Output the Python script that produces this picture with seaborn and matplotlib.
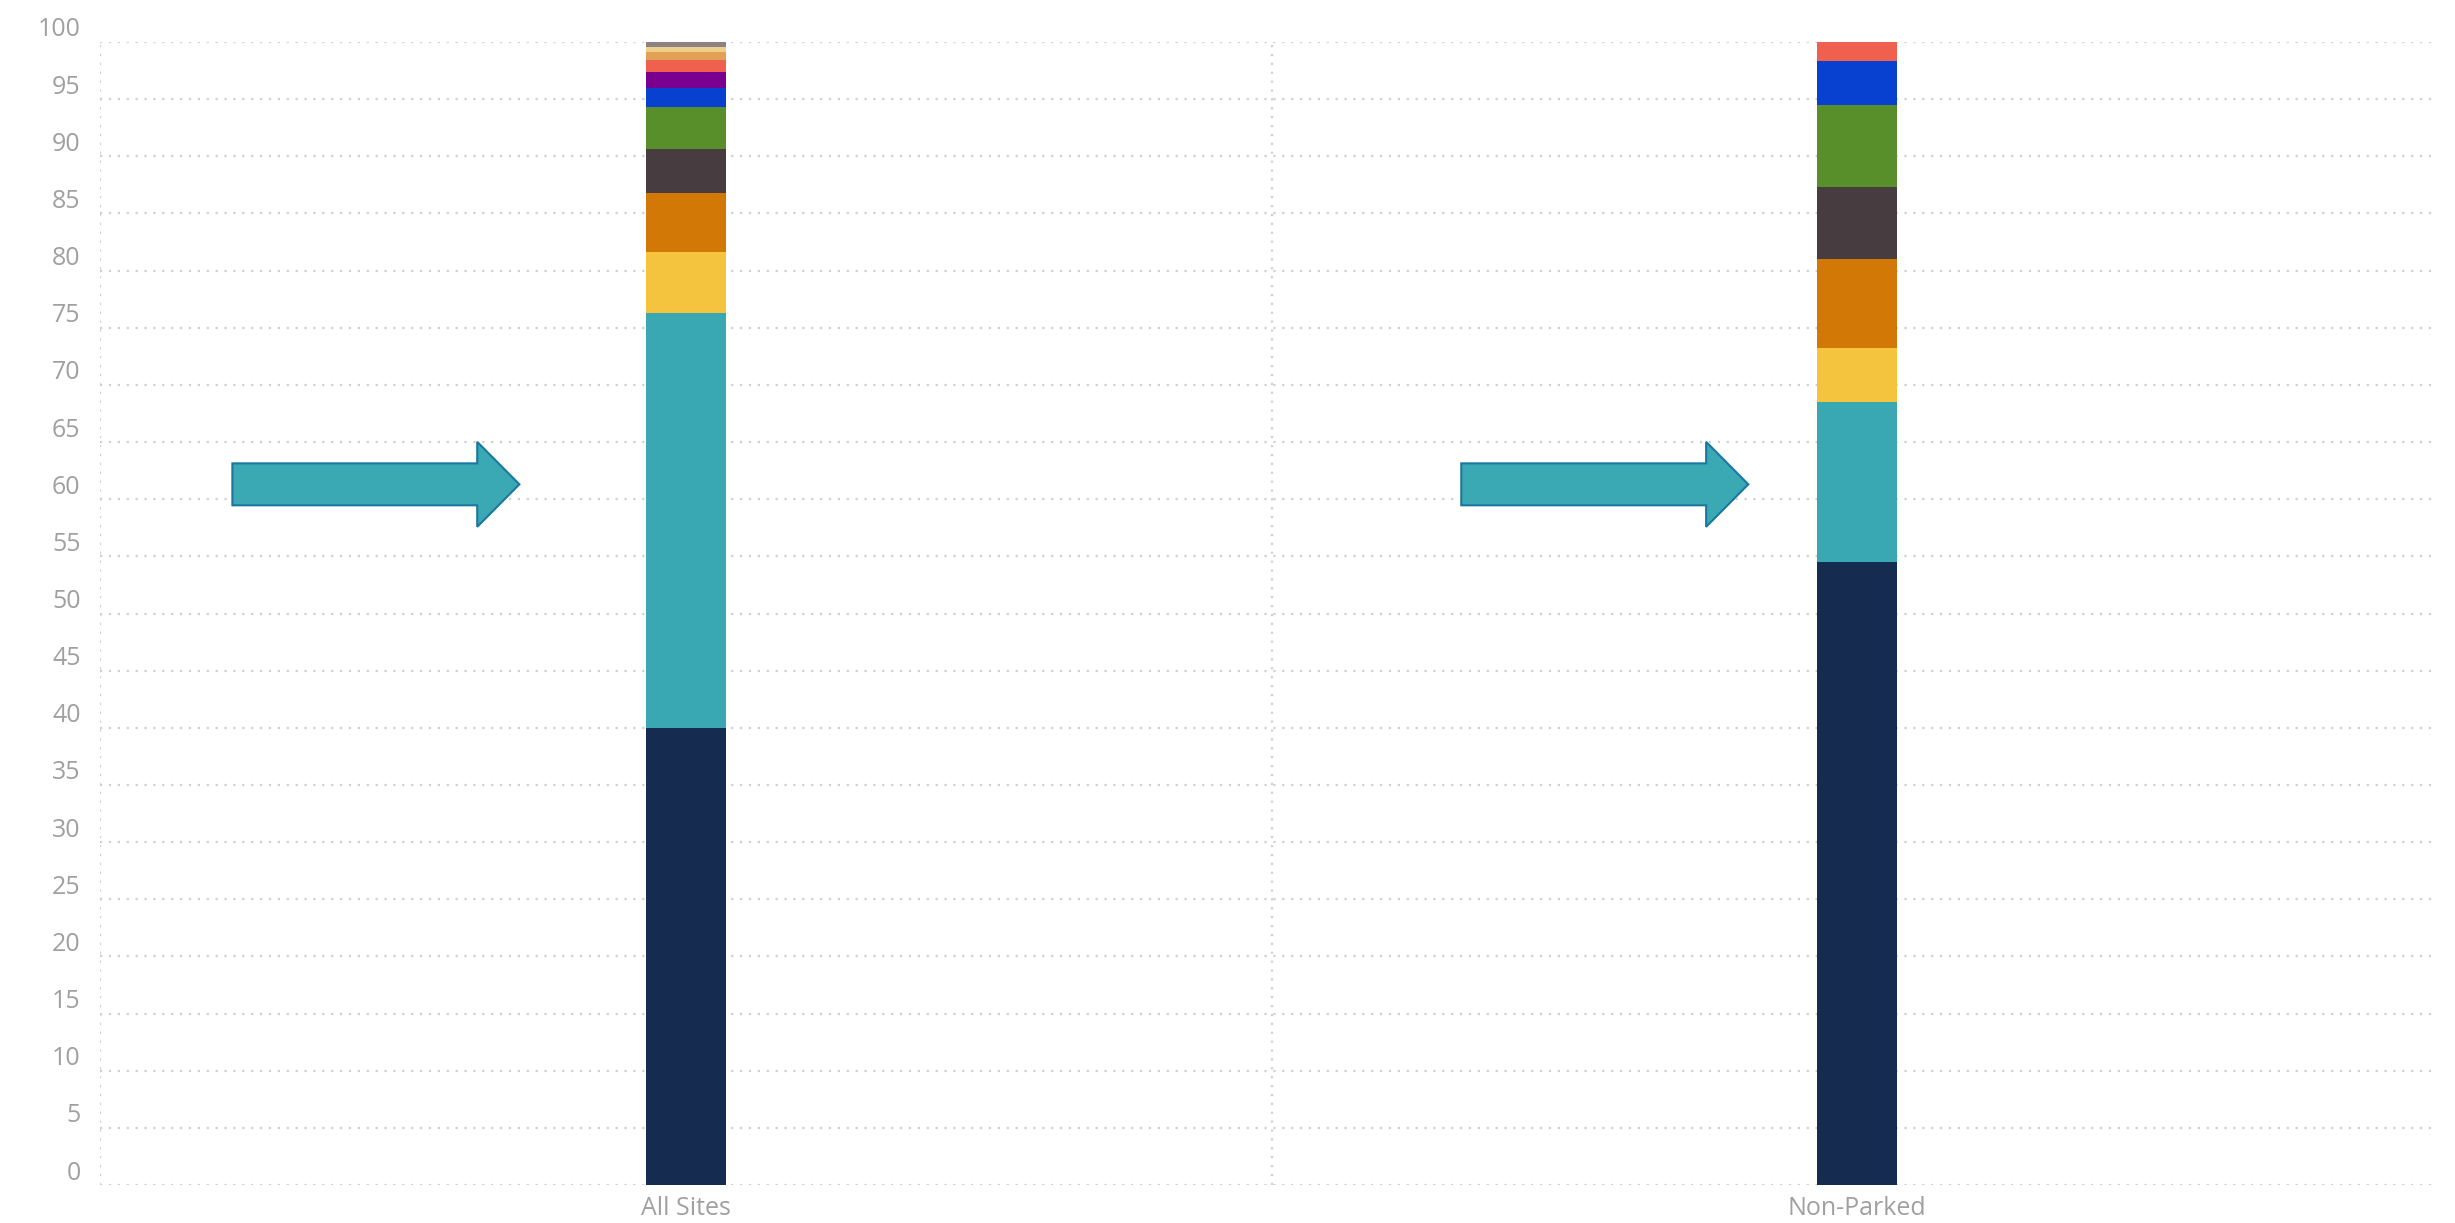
import matplotlib
matplotlib.use("Agg")
import matplotlib.pyplot as plt
import matplotlib.transforms as mtransforms
from matplotlib.patches import FancyArrow
import numpy as np
import seaborn as sns

# data (percent share of each segment, bottom to top)
categories = ["All Sites", "Non-Parked"]
segment_colors = ["#152b50", "#3aa8b3", "#f4c43f", "#d27806", "#473d40", "#598f2b",
                  "#0840d0", "#7a0090", "#f0604f", "#e3a156", "#efd08a", "#8c8283"]
all_sites = [40.0, 36.3, 5.3, 5.2, 3.8, 3.7, 1.7, 1.4, 1.0, 0.7, 0.5, 0.4]
non_parked = [54.5, 14.0, 4.7, 7.8, 6.3, 7.2, 3.8, 0.0, 1.7, 0.0, 0.0, 0.0]
y_ticks = list(range(0, 101, 5))

sns.set_theme(style="white")
plt.rcParams["font.family"] = ["Open Sans", "DejaVu Sans"]

fig = plt.figure(figsize=(24.55, 12.23), dpi=100)
ax = fig.add_axes([100 / 2455, 1 - 1185 / 1223, 2343 / 2455, 1143 / 1223])

# stacked bars: draw cumulative totals from the top segment down
cum_all = np.cumsum(all_sites)
cum_np = np.cumsum(non_parked)
for i in range(len(segment_colors) - 1, -1, -1):
    sns.barplot(x=categories, y=[cum_all[i], cum_np[i]], order=categories,
                color=segment_colors[i], saturation=1, width=0.068,
                linewidth=0, edgecolor="none", ax=ax)

ax.set_xlim(-0.5, 1.5)
ax.set_ylim(0, 100)
ax.set_yticks(y_ticks)
ax.set_yticklabels([str(t) for t in y_ticks])
ax.set_xlabel("")
ax.set_ylabel("")

dot_style = dict(color="#d0d0d0", linestyle=(0, (1, 3)), linewidth=1.6)
for t in y_ticks:
    ax.axhline(t, xmax=0.9965, zorder=0, **dot_style)
ax.axvline(-0.5, zorder=0, **dot_style)
ax.axvline(0.5, zorder=0, **dot_style)

for s in ax.spines.values():
    s.set_visible(False)
ax.tick_params(axis="y", length=0, pad=14, labelsize=18, labelcolor="#a0a0a0")
ax.tick_params(axis="x", length=0, pad=8, labelsize=18, labelcolor="#a0a0a0")

# y labels sit a little above their gridlines
shift = mtransforms.ScaledTranslation(0, 0.15, fig.dpi_scale_trans)
for lab in ax.get_yticklabels():
    lab.set_transform(lab.get_transform() + shift)

# the two call-out arrows
arrow_starts = [-0.387, 0.662]
for x0 in arrow_starts:
    ax.add_patch(FancyArrow(x0, 61.3, 0.245, 0, width=3.67, head_width=7.44,
                            head_length=0.036, length_includes_head=True,
                            facecolor="#3aa9b3", edgecolor="#1a78a0",
                            linewidth=1.5, zorder=5))

fig.savefig("out.png", dpi=100)
